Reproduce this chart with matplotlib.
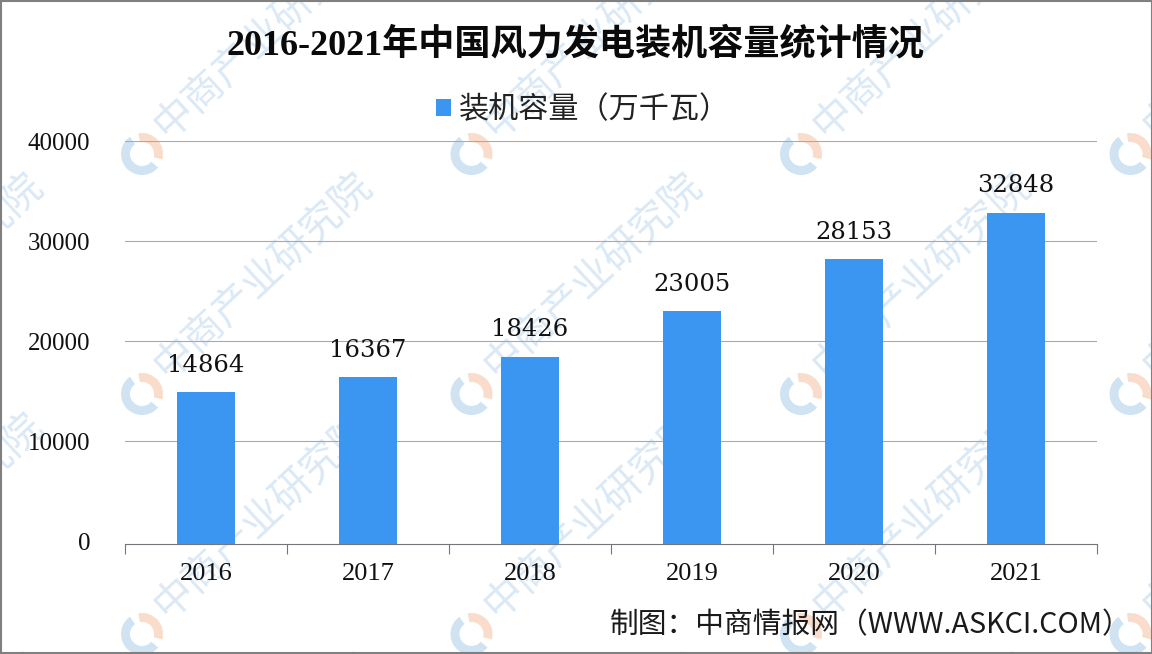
import matplotlib
matplotlib.use("Agg")
import matplotlib.pyplot as plt
from matplotlib.patches import Wedge, Rectangle

years = ['2016', '2017', '2018', '2019', '2020', '2021']
capacity = [14864, 16367, 18426, 23005, 28153, 32848]
y_ticks = [0, 10000, 20000, 30000, 40000]

W, H = 1152, 654
CJK = ['Noto Sans CJK SC', 'DejaVu Sans']
SERIF = ['Liberation Serif', 'Noto Sans CJK SC']
plt.rcParams['font.family'] = CJK

fig = plt.figure(figsize=(W / 100, H / 100), dpi=100, facecolor='white')

# capa de fondo en pixeles para la marca de agua
bg = fig.add_axes([0, 0, 1, 1], zorder=0)
bg.set_xlim(0, W)
bg.set_ylim(H, 0)
bg.axis('off')

for row in range(-1, 3):
    for col in range(-1, 4):
        cx = 142 + col * 329.5
        cy = 154 + row * 240
        # logo (eje y invertido: angulos medidos en sentido horario en pantalla)
        bg.add_patch(Wedge((cx, cy), 21, 40, 235, width=9, fc='#cfe3f2', ec='none'))
        bg.add_patch(Wedge((cx, cy), 21, -100, 15, width=9, fc='#f9dccb', ec='none'))
        # texto
        bg.text(cx + 121, cy + 122, '中商产业研究院', fontsize=29, color='#dbe9f5', rotation=43,
                ha='center', va='center', rotation_mode='anchor', clip_on=True)

# grafica principal
left, right, top, bottom = 125, 1097, 141, 543.5
ax = fig.add_axes([left / W, 1 - bottom / H, (right - left) / W, (bottom - top) / H], zorder=1)
ax.patch.set_alpha(0)
y_min = -250
ax.set_xlim(-0.5, 5.5)
ax.set_ylim(y_min, 40000)

x = list(range(len(years)))
bars = ax.bar(x, [v - y_min for v in capacity], bottom=y_min, width=0.364, color='#3a96f0',
              label='装机容量（万千瓦）', zorder=3)
ax.bar_label(bars, labels=[str(v) for v in capacity], padding=11, fontsize=17.5,
             family=['DejaVu Serif'], color='#111111')

ax.set_yticks(y_ticks)
ax.set_yticklabels([str(v) for v in y_ticks], fontsize=18, family=SERIF, color='#111111')
ax.tick_params(axis='y', length=0, pad=25)
ax.grid(axis='y', color='#a9a9b0', lw=0.8, zorder=1)
ax.set_axisbelow(True)
ax.get_ygridlines()[0].set_visible(False)

# ticks en los limites de categoria, etiquetas centradas
ax.set_xticks([i - 0.5 for i in range(len(years) + 1)])
ax.set_xticklabels([])
ax.set_xticks(x, minor=True)
ax.set_xticklabels(years, minor=True, fontsize=19, family=SERIF, color='#111111')
ax.tick_params(axis='x', which='major', length=7, width=0.8, color='#77747c', direction='out')
ax.tick_params(axis='x', which='minor', length=0, pad=14)

for s in ['top', 'left', 'right']:
    ax.spines[s].set_visible(False)
ax.spines['bottom'].set_color('#77747c')
ax.spines['bottom'].set_linewidth(0.8)

fig.text(576 / W, 1 - 45 / H, '2016-2021年中国风力发电装机容量统计情况', fontsize=26, fontweight='bold',
         family=SERIF, color='#0a0a0a', ha='center', va='center')

leg = ax.legend(loc='center', bbox_to_anchor=(583 / W, 1 - 110 / H), bbox_transform=fig.transFigure,
                frameon=False, fontsize=21.7, handlelength=0.5, handleheight=0.5, handletextpad=0.25,
                labelcolor='#222222')

fig.text(871 / W, 1 - 625 / H, '制图：中商情报网（WWW.ASKCI.COM）', fontsize=20.7, color='#1a1a1a',
         ha='center', va='center')

# borde gris de la captura
bg.add_patch(Rectangle((0.5, 0.5), W - 1, H - 1.5, fill=False, ec='#808080', lw=1.5, zorder=5))

fig.savefig('out.png', dpi=100)
